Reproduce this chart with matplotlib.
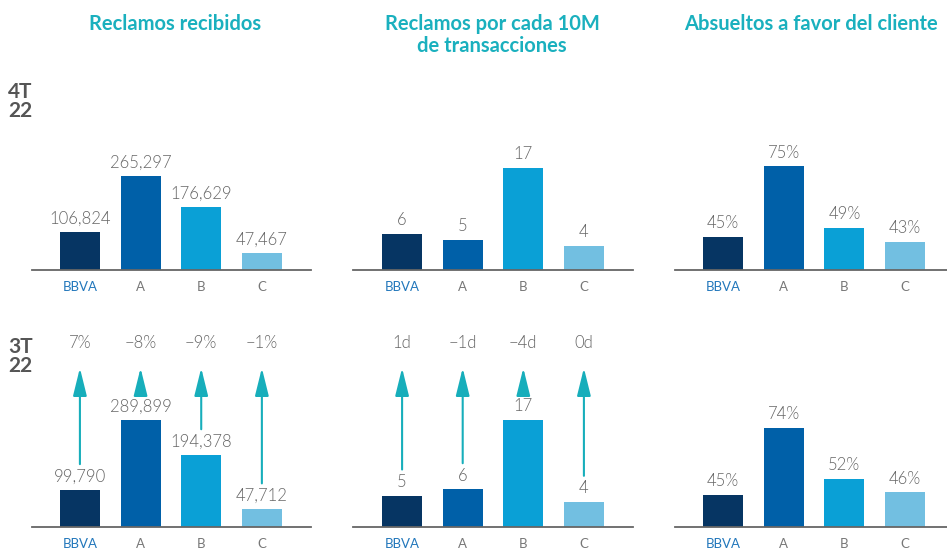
import matplotlib
matplotlib.use("Agg")
import matplotlib.pyplot as plt

# ---------------- data ----------------
categories = ["BBVA", "A", "B", "C"]
titles = ["Reclamos recibidos", "Reclamos por cada 10M\nde transacciones", "Absueltos a favor del cliente"]
row_labels = ["4T\n22", "3T\n22"]

recibidos_4t = [106824, 265297, 176629, 47467]
recibidos_3t = [99790, 289899, 194378, 47712]
por10m_4t = [6, 5, 17, 4]
por10m_3t = [5, 6, 17, 4]
absueltos_4t = [45, 75, 49, 43]
absueltos_3t = [45, 74, 52, 46]

var_recibidos = ["7%", "\u22128%", "\u22129%", "\u22121%"]
var_por10m = ["1d", "\u22121d", "\u22124d", "0d"]

# ---------------- style ----------------
W, H = 947, 550
bar_colors = ["#063563", "#0060A8", "#0AA0D6", "#72BFE1"]
tick_colors = ["#2277BB", "#777777", "#777777", "#777777"]
teal = "#1AB0BE"
arrow_col = "#17AEBB"
val_col = "#666666"
FONT = "Lato"

plt.rcParams["font.family"] = [FONT, "DejaVu Sans"]

fig = plt.figure(figsize=(W / 100, H / 100), dpi=100)


def px_axes(left, top, width, height):
    return fig.add_axes([left / W, 1 - (top + height) / H, width / W, height / H])


# panel geometry (pixels): left, width, xlim
cols = [
    dict(left=32, width=279, xlim=(-0.79, 3.81)),
    dict(left=353, width=280, xlim=(-0.81, 3.81)),
    dict(left=675, width=272, xlim=(-0.79, 3.69)),
]
rows = [dict(top=140, height=130), dict(top=330, height=197)]

data = [
    [recibidos_4t, por10m_4t, absueltos_4t],
    [recibidos_3t, por10m_3t, absueltos_3t],
]
fmt = [lambda v: f"{v:,}", lambda v: f"{v}", lambda v: f"{v}%"]
ylims = [
    [(0, 366900), (0, 21.67), (31, 86.1)],
    [(0, 533700), (0, 31.3), (31, 116.6)],
]
variations = [var_recibidos, var_por10m, None]

for r, row in enumerate(rows):
    for c, col in enumerate(cols):
        ax = px_axes(col["left"], row["top"], col["width"], row["height"])
        vals = data[r][c]
        x = list(range(len(categories)))
        ax.bar(x, vals, width=0.66, color=bar_colors, zorder=2)
        ax.set_xlim(*col["xlim"])
        ax.set_ylim(*ylims[r][c])
        for s in ["top", "left", "right"]:
            ax.spines[s].set_visible(False)
        ax.spines["bottom"].set_color("#666666")
        ax.spines["bottom"].set_linewidth(1.3)
        ax.spines["bottom"].set_zorder(3)
        ax.set_yticks([])
        ax.set_xticks(x)
        ax.set_xticklabels(categories, fontsize=9.5, fontweight="normal")
        ax.tick_params(axis="x", length=0, pad=8)
        for lbl, tc in zip(ax.get_xticklabels(), tick_colors):
            lbl.set_color(tc)
        ax.patch.set_alpha(0)
        for xi, v in zip(x, vals):
            ax.annotate(fmt[c](v), xy=(xi, v), xytext=(0, 4), textcoords="offset points",
                        ha="center", va="bottom", fontsize=12, color=val_col,
                        fontweight=300, annotation_clip=False)
        if r == 1 and variations[c] is not None:
            y0, y1 = ylims[r][c]
            per_px = (y1 - y0) / row["height"]
            for xi, v, t in zip(x, vals, variations[c]):
                start = v + 26 * per_px
                ax.annotate("", xy=(xi, 1 - 38 / row["height"]), xycoords=("data", "axes fraction"),
                            xytext=(xi, start), textcoords="data",
                            arrowprops=dict(arrowstyle="-|>,head_length=1.7,head_width=0.42",
                                            color=arrow_col, lw=1.5, shrinkA=0, shrinkB=0,
                                            mutation_scale=10),
                            annotation_clip=False)
                ax.text(xi, 1 - 13 / row["height"], t, transform=ax.get_xaxis_transform(),
                        ha="center", va="center", fontsize=12, color=val_col,
                        fontweight=300)

# titles
title_x = [175, 492, 811]
for tx, t in zip(title_x, titles):
    fig.text(tx / W, 1 - 14 / H, t, ha="center", va="top", fontsize=14.5,
             fontweight="bold", color=teal, linespacing=1.1)

# row labels
for ty, t in zip([82, 337], row_labels):
    fig.text(8 / W, 1 - ty / H, t, ha="left", va="top", fontsize=15,
             fontweight="bold", color="#555555", linespacing=0.95)

fig.savefig("out.png", dpi=100)
